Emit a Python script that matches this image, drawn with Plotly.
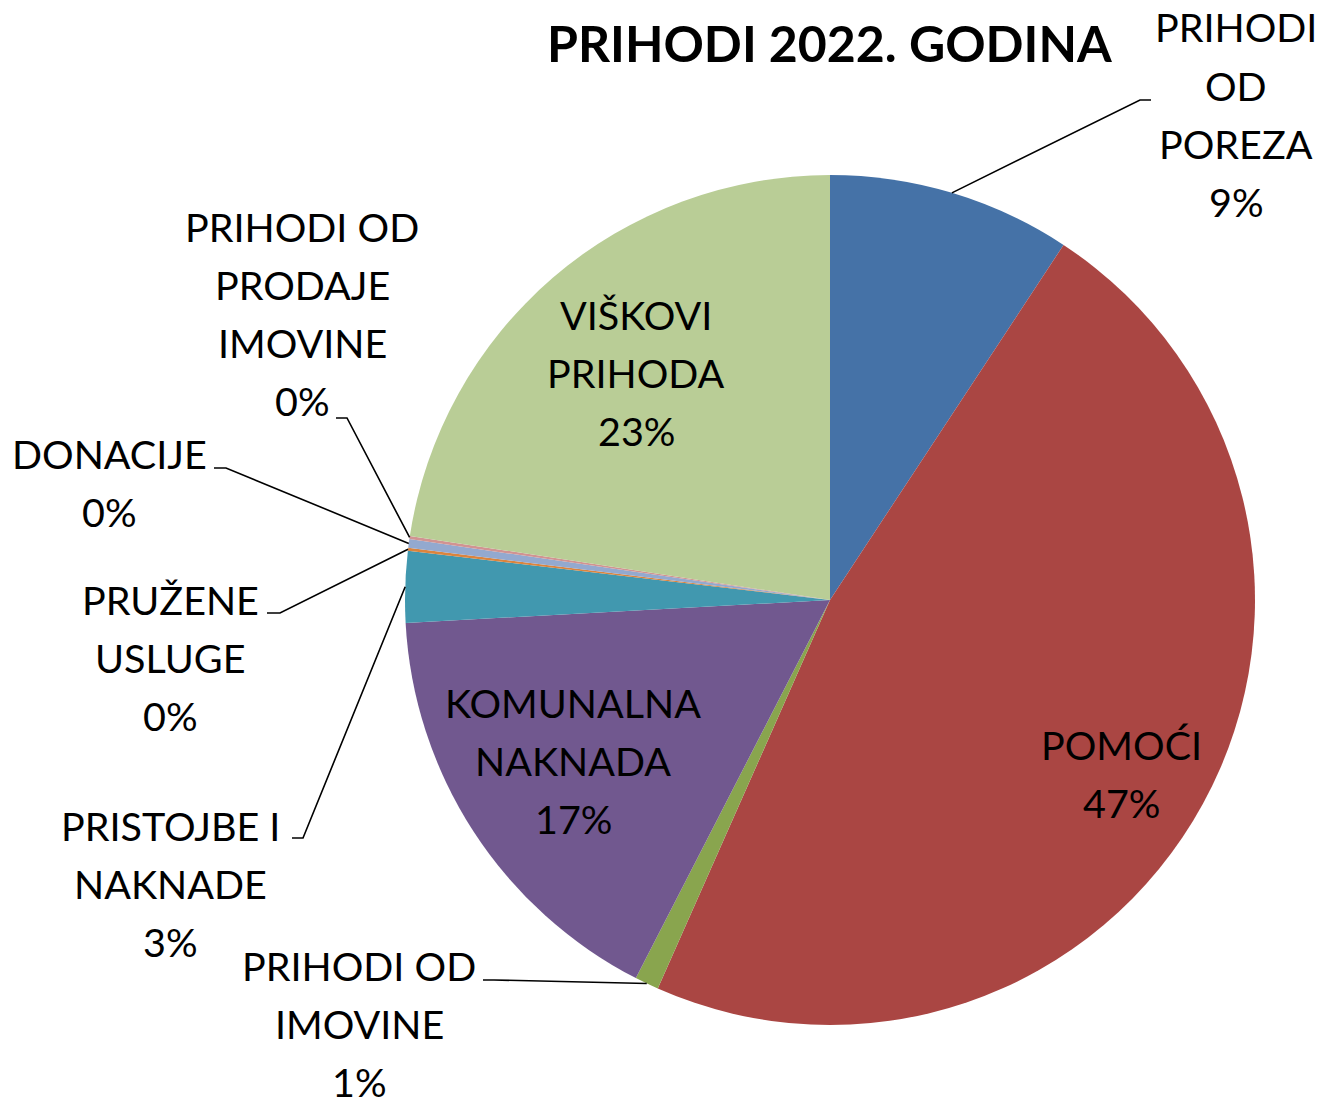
import math
import plotly.graph_objects as go

# ---------------- data ----------------
categories = ["PRIHODI OD POREZA", "POMOĆI", "PRIHODI OD IMOVINE", "KOMUNALNA NAKNADA",
              "PRISTOJBE I NAKNADE", "PRUŽENE USLUGE", "DONACIJE",
              "PRIHODI OD PRODAJE IMOVINE", "VIŠKOVI PRIHODA"]
values = [9.26, 47.38, 0.91, 16.59, 2.71, 0.11, 0.33, 0.12, 22.59]
colors = ["#4572A7", "#AA4643", "#89A54E", "#71588F", "#4198AF",
          "#DB843D", "#93A9CF", "#D19392", "#B9CD96"]
title_text = "PRIHODI 2022. GODINA"

# wrapped label lines (layout of text)
wrapped = {
    "PRIHODI OD POREZA": ["PRIHODI", "OD", "POREZA"],
    "POMOĆI": ["POMOĆI"],
    "PRIHODI OD IMOVINE": ["PRIHODI OD", "IMOVINE"],
    "KOMUNALNA NAKNADA": ["KOMUNALNA", "NAKNADA"],
    "PRISTOJBE I NAKNADE": ["PRISTOJBE I", "NAKNADE"],
    "PRUŽENE USLUGE": ["PRUŽENE", "USLUGE"],
    "DONACIJE": ["DONACIJE"],
    "PRIHODI OD PRODAJE IMOVINE": ["PRIHODI OD", "PRODAJE", "IMOVINE"],
    "VIŠKOVI PRIHODA": ["VIŠKOVI", "PRIHODA"],
}

# ---------------- layout constants ----------------
W, H = 1323, 1100
CX, CY, R = 830, 600, 425
FONT = "Lato"
FS = 39.5
LS = 58  # line spacing px
TY_SHIFT = -2

def to_paper(x, y):
    return x / W, 1 - y / H

total = sum(values)
cum = []
c = 0
for v in values:
    cum.append((c, c + v))
    c += v

def mid_frac(i):
    a, b = cum[i]
    return (a + b) / 2 / total

def pie_point(frac, rr=R, ddeg=0.0):
    th = 2 * math.pi * frac + math.radians(ddeg)
    return CX + rr * math.sin(th), CY - rr * math.cos(th)

pct = [f"{round(v / total * 100)}%" for v in values]

fig = go.Figure()
dx0, dy1 = to_paper(CX - R, CY + R)
dx1, dy0 = to_paper(CX + R, CY - R)
fig.add_trace(go.Pie(
    labels=categories, values=values, sort=False, direction="clockwise", rotation=0,
    marker=dict(colors=colors, line=dict(width=0)),
    textinfo="none", hoverinfo="label+percent", showlegend=False,
    domain=dict(x=[dx0, dx1], y=[dy1, dy0]),
))

annotations = []
shapes = []

def add_text_block(lines, cx, cy_first, size=FS, bold=False):
    for k, ln in enumerate(lines):
        x, y = to_paper(cx, cy_first + k * LS + TY_SHIFT)
        annotations.append(dict(
            x=x, y=y, xref="paper", yref="paper", xanchor="center", yanchor="middle",
            text=f"<b>{ln}</b>" if bold else ln, showarrow=False,
            font=dict(family=FONT, size=size, color="#000000")))

# outside labels: (index, text center x, first line y, leader start, elbow)
outside = [
    (0, 1236, 29, (1151, 100), (1140, 100)),
    (7, 302, 229, (336, 418), (347, 418)),
    (6, 109, 455, (214, 468), (226, 468)),
    (5, 170, 601, (267, 613), (280, 613)),
    (4, 170, 827, (292, 838), (303, 838)),
    (2, 359, 967, (483, 980), (494, 980)),
]
for idx, tx, ty, p0, p1 in outside:
    add_text_block(wrapped[categories[idx]] + [pct[idx]], tx, ty)
    ex, ey = pie_point(mid_frac(idx))
    pts = [to_paper(*p0), to_paper(*p1), to_paper(ex, ey)]
    path = "M {} {} L {} {} L {} {}".format(pts[0][0], pts[0][1], pts[1][0], pts[1][1],
                                          pts[2][0], pts[2][1])
    shapes.append(dict(type="path", path=path, xref="paper", yref="paper",
                       line=dict(color="#000000", width=1.6)))

# inside labels: (index, radial fraction, angle offset deg)
inside = [(8, 0.70, 0.0), (3, 0.715, 0.6), (1, 0.80, 2.4)]
for idx, rf, dd in inside:
    px_, py_ = pie_point(mid_frac(idx), R * rf, dd)
    lines = wrapped[categories[idx]] + [pct[idx]]
    first = py_ - (len(lines) - 1) * LS / 2
    add_text_block(lines, px_, first)

# title
tx, ty = to_paper(829, 43)
annotations.append(dict(x=tx, y=ty, xref="paper", yref="paper", xanchor="center",
                        yanchor="middle", text=f"<b>{title_text}</b>", showarrow=False,
                        font=dict(family=FONT, size=50, color="#000000")))

fig.update_layout(
    width=W, height=H, margin=dict(l=0, r=0, t=0, b=0),
    paper_bgcolor="white", plot_bgcolor="white",
    annotations=annotations, shapes=shapes,
)
fig.write_html("out.html", config={"displayModeBar": False},
               post_script="document.body.style.margin='0px';")
